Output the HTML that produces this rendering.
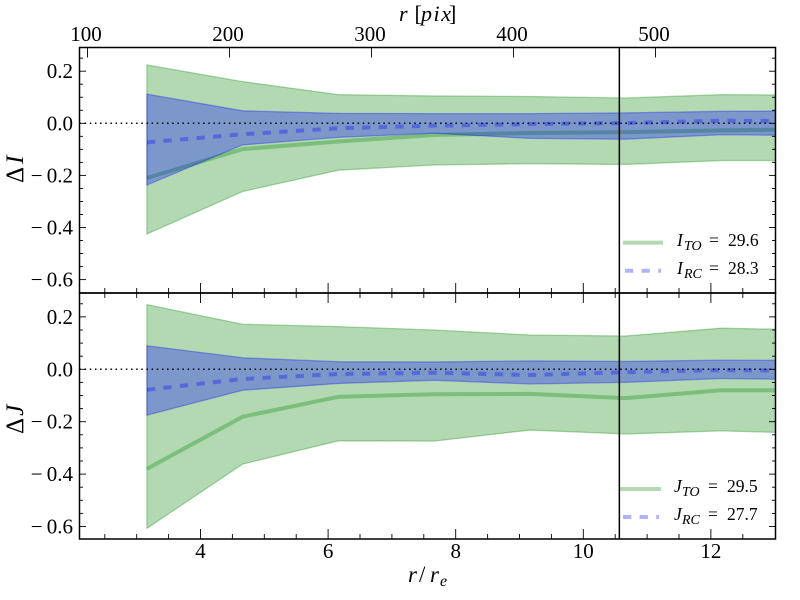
<!DOCTYPE html>
<html>
<head>
<meta charset="utf-8">
<title>Delta I and Delta J profile chart</title>
<style>
html,body{margin:0;padding:0;background:#fff;}
svg{display:block;font-family:"Liberation Serif",serif;}
</style>
</head>
<body>
<svg id="chart" xmlns="http://www.w3.org/2000/svg" width="800" height="600" viewBox="0 0 800 600">
<defs>
<clipPath id="clip-top"><rect x="79.5" y="47.5" width="696" height="245.5"/></clipPath>
<clipPath id="clip-bottom"><rect x="79.5" y="293" width="696" height="246"/></clipPath>
</defs>
<g id="layer-marks"></g>
<g id="layer-axes"></g>
<text y="21" font-size="22"><tspan x="399" font-style="italic">r</tspan><tspan x="414.5">[</tspan><tspan x="421" font-style="italic" textLength="30">pix</tspan><tspan x="449">]</tspan></text>
<text y="582" font-size="23"><tspan x="408" font-style="italic">r</tspan><tspan x="419">/</tspan><tspan x="430" font-style="italic">r</tspan><tspan x="440" font-style="italic" font-size="16" dy="4">e</tspan></text>
<text transform="translate(23,183) rotate(-90)" font-size="25">Δ<tspan font-style="italic" dx="3">I</tspan></text>
<text transform="translate(23,434) rotate(-90)" font-size="25">Δ<tspan font-style="italic" dx="2">J</tspan></text>
<g>
<line x1="623" x2="663" y1="242.6" y2="242.6" stroke="#008000" stroke-opacity="0.3" stroke-width="4"/>
<text y="246" font-size="17.5"><tspan x="677" font-style="italic">I</tspan><tspan x="684" font-style="italic" font-size="14" dy="4">TO</tspan><tspan x="709" dy="-4">=</tspan><tspan x="728">29.6</tspan></text>
<line x1="625" x2="661" y1="270.7" y2="270.7" stroke="#0000ff" stroke-opacity="0.3" stroke-width="4" stroke-dasharray="8.3 8.3"/>
<text y="274" font-size="17.5"><tspan x="677" font-style="italic">I</tspan><tspan x="684" font-style="italic" font-size="14" dy="4">RC</tspan><tspan x="709" dy="-4">=</tspan><tspan x="728">28.3</tspan></text>
</g>
<g>
<line x1="620" x2="661" y1="489" y2="489" stroke="#008000" stroke-opacity="0.3" stroke-width="4"/>
<text y="492" font-size="17.5"><tspan x="674" font-style="italic">J</tspan><tspan x="682" font-style="italic" font-size="14" dy="4">TO</tspan><tspan x="708" dy="-4">=</tspan><tspan x="727">29.5</tspan></text>
<line x1="623" x2="659" y1="517" y2="517" stroke="#0000ff" stroke-opacity="0.3" stroke-width="4" stroke-dasharray="8.3 8.3"/>
<text y="520" font-size="17.5"><tspan x="674" font-style="italic">J</tspan><tspan x="682" font-style="italic" font-size="14" dy="4">RC</tspan><tspan x="708" dy="-4">=</tspan><tspan x="727">27.7</tspan></text>
</g>
</svg>
<script>
const radii = [3.16, 4.66, 6.16, 7.66, 9.16, 10.66, 12.16, 13.66];

const iToMean = [-0.21, -0.099, -0.07, -0.045, -0.037, -0.034, -0.027, -0.023];
const iToHigh = [0.224, 0.16, 0.11, 0.105, 0.103, 0.097, 0.11, 0.108];
const iToLow = [-0.425, -0.262, -0.18, -0.16, -0.155, -0.158, -0.143, -0.143];
const iRcMean = [-0.073, -0.042, -0.019, -0.009, -0.003, 0.001, 0.01, 0.008];
const iRcHigh = [0.112, 0.048, 0.038, 0.037, 0.037, 0.04, 0.046, 0.047];
const iRcLow = [-0.237, -0.083, -0.054, -0.038, -0.058, -0.061, -0.044, -0.047];

const jToMean = [-0.38, -0.181, -0.105, -0.095, -0.094, -0.11, -0.08, -0.08];
const jToHigh = [0.247, 0.172, 0.163, 0.15, 0.131, 0.127, 0.157, 0.15];
const jToLow = [-0.607, -0.362, -0.273, -0.274, -0.232, -0.247, -0.235, -0.245];
const jRcMean = [-0.078, -0.037, -0.018, -0.013, -0.022, -0.011, -0.003, -0.006];
const jRcHigh = [0.09, 0.044, 0.029, 0.028, 0.032, 0.03, 0.035, 0.034];
const jRcLow = [-0.175, -0.08, -0.054, -0.042, -0.056, -0.05, -0.035, -0.04];

const cutRadius = 10.565;

const xTickLabels = ['4', '6', '8', '10', '12'];
const xMinorTicks = [2.5, 3, 3.5, 4.5, 5, 5.5, 6.5, 7, 7.5, 8.5, 9, 9.5, 10.5, 11, 11.5, 12.5];
const pixTickLabels = ['100', '200', '300', '400', '500'];
const yTickLabels = ['0.2', '0.0', '-0.2', '-0.4', '-0.6'];
const yMinorTicks = [0.25, 0.15, 0.1, 0.05, -0.05, -0.1, -0.15, -0.25, -0.3, -0.35, -0.45, -0.5, -0.55];

const NS = 'http://www.w3.org/2000/svg';
const LEFT = 79.5, RIGHT = 775.5, TOP = 47.5, MID = 293, BOTTOM = 539;

function xScale(v) { return 200.5 + (v - 4) * 63.8; }
function pixScale(v) { return 87.5 + (v - 100) * 1.42; }
function yScaleTop(v) { return 123.3 - v * 260.5; }
function yScaleBottom(v) { return 369.3 - v * 262; }

function make(parent, tag, attrs) {
  const el = document.createElementNS(NS, tag);
  for (const k in attrs) el.setAttribute(k, attrs[k]);
  parent.appendChild(el);
  return el;
}
function linePath(xs, ys, yFn) {
  return xs.map((x, i) => (i ? 'L' : 'M') + xScale(x).toFixed(2) + ' ' + yFn(ys[i]).toFixed(2)).join(' ');
}
function bandPath(xs, hi, lo, yFn) {
  const rev = xs.map((_, i) => xs.length - 1 - i);
  return linePath(xs, hi, yFn) + ' ' + rev.map(i => 'L' + xScale(xs[i]).toFixed(2) + ' ' + yFn(lo[i]).toFixed(2)).join(' ') + ' Z';
}

const marks = document.getElementById('layer-marks');
const axes = document.getElementById('layer-axes');

function drawPanel(prefix, clipId, yFn, toMean, toHigh, toLow, rcMean, rcHigh, rcLow) {
  const g = make(marks, 'g', { 'clip-path': 'url(#' + clipId + ')' });
  
  

  const greenBand = make(g, 'path', { d: bandPath(radii, toHigh, toLow, yFn), fill: '#008000', 'fill-opacity': 0.3, stroke: '#008000', 'stroke-opacity': 0.3, 'stroke-width': 1.3 });
  
  

  const greenLine = make(g, 'path', { d: linePath(radii, toMean, yFn), fill: 'none', stroke: '#008000', 'stroke-opacity': 0.3, 'stroke-width': 4 });
  
  

  const blueBand = make(g, 'path', { d: bandPath(radii, rcHigh, rcLow, yFn), fill: '#0000ff', 'fill-opacity': 0.3, stroke: '#0000ff', 'stroke-opacity': 0.3, 'stroke-width': 1.3 });
  
  

  const blueLine = make(g, 'path', { d: linePath(radii, rcMean, yFn), fill: 'none', stroke: '#0000ff', 'stroke-opacity': 0.3, 'stroke-width': 4, 'stroke-dasharray': '8.3 8.3' });
  
  

  const zero = make(g, 'line', { x1: LEFT, x2: RIGHT, y1: yFn(0), y2: yFn(0), stroke: '#000', 'stroke-width': 1.5, 'stroke-dasharray': '1.5 3.65' });
  
  

  const cut = make(g, 'line', { x1: xScale(cutRadius), x2: xScale(cutRadius), y1: TOP, y2: BOTTOM, stroke: '#000', 'stroke-width': 1.5 });
  
  
}

drawPanel('delta-i', 'clip-top', yScaleTop, iToMean, iToHigh, iToLow, iRcMean, iRcHigh, iRcLow);
drawPanel('delta-j', 'clip-bottom', yScaleBottom, jToMean, jToHigh, jToLow, jRcMean, jRcHigh, jRcLow);

function tick(x1, y1, x2, y2) {
  const t = make(axes, 'line', { x1: x1, y1: y1, x2: x2, y2: y2, stroke: '#000', 'stroke-width': 0.9 });
  
  
}

xTickLabels.forEach(label => {
  const x = xScale(parseFloat(label));
  tick(x, BOTTOM, x, BOTTOM - 10);
  tick(x, MID - 10, x, MID + 10);
  const t = make(axes, 'text', { x: x, y: 558, 'text-anchor': 'middle', 'font-size': 21 });
  t.textContent = label;
  
  
});
xMinorTicks.forEach(v => {
  const x = xScale(v);
  tick(x, BOTTOM, x, BOTTOM - 5);
  tick(x, MID - 5, x, MID + 5);
});
pixTickLabels.forEach(label => {
  const x = pixScale(parseFloat(label));
  tick(x, TOP, x, TOP + 10);
  const t = make(axes, 'text', { x: x - 1.5, y: 41, 'text-anchor': 'middle', 'font-size': 21 });
  t.textContent = label;
  
  
});
[yScaleTop, yScaleBottom].forEach(yFn => {
  yTickLabels.forEach(label => {
    const v = parseFloat(label);
    const y = yFn(v);
    tick(LEFT, y, LEFT + 6.5, y);
    tick(RIGHT, y, RIGHT - 6.5, y);
    const t = make(axes, 'text', { x: 73, y: y + 7, 'text-anchor': 'end', 'font-size': 21 });
    t.textContent = label.replace('-', '\u2212\u2009');
    
    
  });
  yMinorTicks.forEach(v => {
    const y = yFn(v);
    tick(LEFT, y, LEFT + 3.5, y);
    tick(RIGHT, y, RIGHT - 3.5, y);
  });
});

const frameTop = make(axes, 'rect', { x: LEFT, y: TOP, width: RIGHT - LEFT, height: MID - TOP, fill: 'none', stroke: '#000', 'stroke-width': 1.5 });



const frameBottom = make(axes, 'rect', { x: LEFT, y: MID, width: RIGHT - LEFT, height: BOTTOM - MID, fill: 'none', stroke: '#000', 'stroke-width': 1.5 });


</script>
</body>
</html>
